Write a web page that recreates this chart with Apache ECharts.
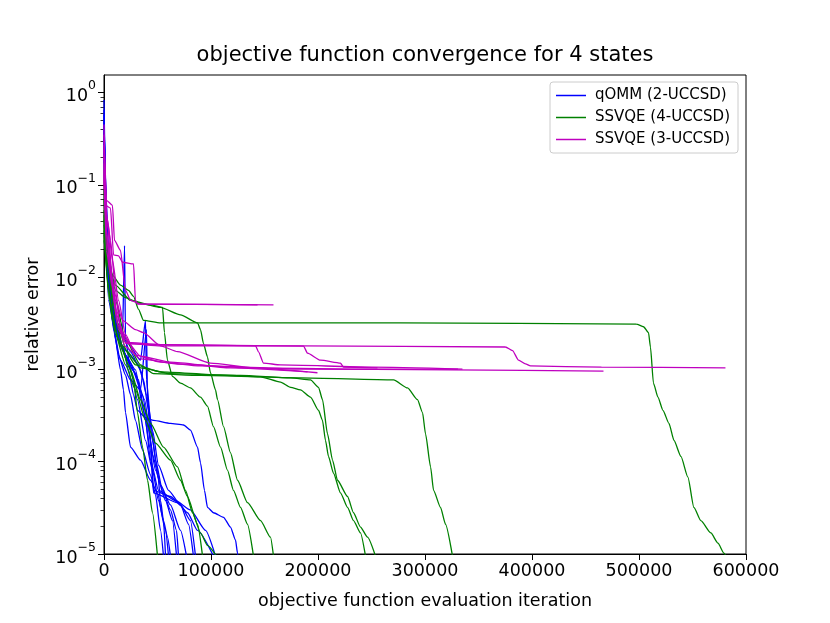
<!DOCTYPE html>
<html>
<head>
<meta charset="utf-8">
<script src="https://cdn.jsdelivr.net/npm/echarts@6.0.0/dist/echarts.min.js"></script>
<style>
html, body { margin: 0; padding: 0; background: #fff; }
#chart { width: 830px; height: 623px; }
</style>
</head>
<body>
<div id="chart"></div>
<script>
// 收敛曲线: [iteration, relative error],从原图读取的估计值

// qOMM (2-UCCSD)
var qomm1 = [[0,0.65],[2300,0.025],[6100,0.0072],[10700,0.0034],[17300,0.0018],[22900,0.00099],[27600,0.00053],[31300,0.00036],[38800,0.0003],[46300,0.00028],[62100,0.00026],[74300,0.00025],[80800,0.00022],[87400,0.000144],[90200,0.000097],[93900,0.000049],[96700,0.000032],[102300,0.000028],[111700,0.000025],[118200,0.0000196],[122900,0.0000142],[124800,0.0000102],[125700,0.0000085]];
var qomm2 = [[0,0.83],[2300,0.032],[6100,0.0056],[10700,0.0021],[15400,0.00099],[18200,0.0006],[20100,0.00034],[24800,0.000144],[34100,0.000104],[43500,0.000063],[50000,0.000046],[55600,0.000023],[59300,0.0000152],[62100,0.0000095]];
var qomm3 = [[0,0.5],[3300,0.0153],[7900,0.0034],[13600,0.00143],[20100,0.00087],[24800,0.00053],[29400,0.00028],[36000,0.000134],[43500,0.000072],[48100,0.000044],[52800,0.000018],[55600,0.0000095]];
var qomm4 = [[0,0.31],[4200,0.0072],[10700,0.0027],[17300,0.0024],[19200,0.022],[20100,0.0021],[24800,0.00099],[31300,0.00047],[38800,0.00017],[45300,0.000081],[50900,0.000038],[57500,0.000018],[60300,0.0000095]];
var qomm5 = [[0,0.39],[4200,0.0093],[10700,0.0034],[20100,0.0021],[34100,0.00126],[38800,0.0034],[39700,0.00077],[43500,0.00028],[48100,0.000104],[54700,0.000049],[62100,0.00003],[67800,0.000018],[69600,0.0000095]];
var qomm6 = [[0,0.57],[3300,0.0119],[8900,0.0027],[15400,0.00126],[24800,0.00077],[34100,0.0006],[39700,0.0027],[40700,0.00047],[43500,0.00017],[46300,0.000049],[62100,0.000042],[71500,0.000034],[80800,0.000023],[85500,0.0000095]];
var qomm7 = [[0,0.45],[4200,0.0082],[11700,0.0024],[20100,0.00143],[29400,0.00099],[36900,0.00036],[43500,0.000134],[46300,0.000046],[68700,0.000036],[78000,0.000028],[87400,0.000018],[102300,0.0000095]];
var qomm8 = [[0,0.35],[5100,0.0064],[13600,0.0021],[22900,0.00126],[32200,0.00077],[38800,0.00028],[43500,0.000104],[50900,0.000049],[66800,0.000038],[80800,0.00003],[94900,0.000018],[104200,0.0000095]];
var qomm9 = [[0,0.24],[6100,0.0056],[15400,0.0018],[26600,0.00099],[36000,0.00053],[41600,0.00022],[48100,0.000081],[57500,0.000038],[64000,0.000023],[67800,0.0000095]];
var qomm10 = [[0,0.27],[7900,0.0044],[17300,0.0016],[28500,0.00094],[37900,0.00047],[45300,0.000119],[52800,0.000056],[62100,0.000034],[71500,0.000018],[77100,0.0000095]];
var qomm11 = [[0,0.19],[4200,0.0056],[10700,0.0024],[20100,0.0016],[31300,0.00117],[36900,0.00077],[41600,0.00036],[45300,0.00017],[50000,0.000081],[52800,0.000038],[55600,0.000023],[57500,0.0000095]];
var qomm12 = [[0,0.41],[5100,0.0105],[13600,0.003],[24800,0.00155],[34100,0.00099],[39700,0.00053],[45300,0.00022],[50900,0.000092],[60300,0.000049],[71500,0.000034],[79000,0.000021],[83600,0.0000095]];

// SSVQE (4-UCCSD)
var ssvqe4a = [[0,0.088],[3300,0.0195],[7900,0.0105],[15400,0.0082],[22900,0.0072],[27600,0.0062],[32200,0.0045],[36900,0.0034],[52800,0.0032],[277100,0.0032],[497600,0.0031],[504200,0.0029],[508900,0.0025],[510700,0.00175],[513500,0.00071],[517700,0.0005],[522400,0.00036],[528000,0.00026],[532700,0.00017],[539200,0.000114],[545700,0.000068],[551300,0.000032],[557800,0.000023],[567200,0.0000169],[573800,0.0000131],[579400,0.0000102],[582200,0.000009]];
var ssvqe4b = [[0,0.068],[4200,0.0174],[10700,0.0056],[20100,0.0021],[34100,0.00112],[46300,0.0009],[90200,0.00086],[183600,0.00081],[270600,0.00077],[283700,0.00063],[293000,0.00047],[297700,0.00034],[300500,0.0002],[305200,0.000088],[308000,0.000049],[314500,0.000032],[319200,0.000021],[325700,0.0000095]];
var ssvqe4c = [[0,0.053],[3300,0.0145],[8900,0.0044],[17300,0.0018],[29400,0.00112],[52800,0.00094],[108900,0.00087],[146300,0.00083],[165000,0.00073],[174400,0.00064],[183600,0.0006],[193000,0.0005],[200500,0.00036],[204200,0.00028],[207000,0.00017],[209800,0.000114],[214500,0.000075],[221000,0.000046],[227600,0.000032],[233200,0.000023],[239700,0.0000169],[244400,0.0000095]];
var ssvqe4d = [[0,0.042],[4200,0.0119],[11700,0.0034],[21000,0.0016],[34100,0.00104],[62100,0.0009],[127600,0.00086],[174400,0.00081],[193000,0.00077],[200500,0.00064],[204200,0.00047],[208900,0.0002],[213600,0.000104],[218200,0.000063],[227600,0.000042],[233200,0.000028],[239700,0.0000196],[246300,0.0000152],[253700,0.0000095]];
var ssvqe4e = [[0,0.032],[4200,0.0145],[10700,0.0072],[20100,0.006],[34100,0.0052],[52800,0.0047],[71500,0.0039],[87400,0.0032],[90200,0.0027],[93000,0.0019],[96700,0.00137],[99500,0.00092],[104200,0.0006],[106100,0.00047],[111700,0.00024],[118200,0.000125],[124800,0.000063],[134100,0.000036],[146300,0.000023],[155600,0.0000152],[158400,0.0000095]];
var ssvqe4f = [[0,0.047],[3300,0.0093],[7900,0.0034],[15400,0.0018],[22900,0.00112],[27600,0.00077],[31300,0.00034],[36000,0.000144],[40700,0.000063],[45300,0.000028],[50000,0.0000095]];
var ssvqe4g = [[0,0.025],[4200,0.0136],[10700,0.0082],[24800,0.0056],[43500,0.005],[54700,0.0047],[56500,0.0025],[59300,0.00126],[64000,0.00084],[71500,0.00071],[80800,0.00063],[90200,0.0005],[96700,0.0004],[102300,0.00024],[108900,0.000144],[115400,0.000081],[121000,0.000049],[127600,0.000032],[134100,0.000021],[139700,0.0000095]];
var ssvqe4h = [[0,0.037],[4200,0.0072],[10700,0.0024],[20100,0.00112],[29400,0.0006],[38800,0.00028],[48100,0.000159],[62100,0.000104],[71500,0.000063],[78000,0.000042],[87400,0.000021],[92100,0.0000095]];
var ssvqe4i = [[0,0.029],[5100,0.0056],[13600,0.0021],[24800,0.00099],[34100,0.00047],[43500,0.00026],[55600,0.000144],[68700,0.000088],[76200,0.000049],[82700,0.000028],[90200,0.0000169],[96700,0.0000124],[105100,0.0000095]];

// SSVQE (3-UCCSD)
var ssvqe3a = [[0,0.45],[1400,0.06],[6100,0.056],[8900,0.0174],[13600,0.017],[17300,0.0145],[27600,0.0139],[29400,0.0056],[31300,0.0051],[143500,0.005]];
var ssvqe3b = [[0,0.35],[2300,0.068],[7900,0.06],[9800,0.025],[15400,0.0195],[20100,0.0072],[24800,0.0056],[34100,0.0051],[158400,0.005]];
var ssvqe3c = [[0,0.24],[2300,0.047],[6100,0.025],[10700,0.0072],[15400,0.0027],[24800,0.0019],[52800,0.0018],[183600,0.0018],[375200,0.00175],[381800,0.0016],[387400,0.00126],[393900,0.00115],[398600,0.00109],[464900,0.00106],[580800,0.00104]];
var ssvqe3d = [[0,0.27],[3300,0.042],[7900,0.0153],[13600,0.0056],[20100,0.0024],[29400,0.00143],[52800,0.0012],[90200,0.00109],[183600,0.00101],[323800,0.00099],[466800,0.00096]];
var ssvqe3e = [[0,0.21],[2300,0.032],[6100,0.0119],[11700,0.0044],[19200,0.0018],[34100,0.0013],[71500,0.00114],[136900,0.00104],[230400,0.00101],[330800,0.00101]];
var ssvqe3f = [[0,0.17],[3300,0.037],[7900,0.0093],[13600,0.0027],[21000,0.0019],[43500,0.00186],[141600,0.0018],[144400,0.00155],[149100,0.00117],[165000,0.00112],[250000,0.00106],[335000,0.00101]];
var ssvqe3g = [[0,0.145],[2300,0.029],[7000,0.0082],[12600,0.0031],[20100,0.00196],[52800,0.00186],[186500,0.00179],[190200,0.0015],[202300,0.00126],[221000,0.00117],[223800,0.00106],[255600,0.00104]];
var ssvqe3h = [[0,0.113],[3300,0.025],[8900,0.0072],[17300,0.0034],[29400,0.0027],[36900,0.0025],[52800,0.0018],[68700,0.00156],[99500,0.00117],[139700,0.00104],[199500,0.00092]];
var ssvqe3i = [[0,0.13],[2300,0.0195],[6100,0.0105],[11700,0.0039],[20100,0.0021],[34100,0.00139],[62100,0.0012],[118200,0.00104],[190200,0.00094]];

var qommRuns = [qomm1, qomm2, qomm3, qomm4, qomm5, qomm6, qomm7, qomm8, qomm9, qomm10, qomm11, qomm12];
var ssvqe4Runs = [ssvqe4a, ssvqe4b, ssvqe4c, ssvqe4d, ssvqe4e, ssvqe4f, ssvqe4g, ssvqe4h, ssvqe4i];
var ssvqe3Runs = [ssvqe3a, ssvqe3b, ssvqe3c, ssvqe3d, ssvqe3e, ssvqe3f, ssvqe3g, ssvqe3h, ssvqe3i];

var seriesNames = ['qOMM (2-UCCSD)', 'SSVQE (4-UCCSD)', 'SSVQE (3-UCCSD)'];
var seriesColors = ['#0000ff', '#008000', '#bf00bf'];

var xTicks = [0, 100000, 200000, 300000, 400000, 500000, 600000];
var yTicks = [1e-5, 1e-4, 1e-3, 1e-2, 1e-1, 1];

var font = 'DejaVu Sans';

// 次刻度 2..9 x 10^n
var yMinorTicks = [];
for (var i = 0; i < yTicks.length - 1; i++) {
	for (var k = 2; k <= 9; k++) {
		yMinorTicks.push(k * yTicks[i]);
	}
}

var makeSeries = function(name, color, runs) {
	return runs.map(function(run) {
		return {
			name : name,
			type : 'line',
			data : run,
			symbol : 'none',
			showSymbol : false,
			silent : true,
			clip : true,
			smooth : 0.2,
			smoothMonotone : 'x',
			lineStyle : { color : color, width : 1.3 },
			itemStyle : { color : color }
		};
	});
};

var myChart = echarts.init(document.getElementById('chart'));
var option = {
	animation : false,
	backgroundColor : '#fff',
	title : {
		text : 'objective function convergence for 4 states',
		left : 425,
		textAlign : 'center',
		top : 45,
		padding : 0,
		textStyle : { fontFamily : font, fontSize : 21, fontWeight : 'normal', color : '#000' }
	},
	legend : {
		data : seriesNames,
		orient : 'vertical',
		left : 550,
		top : 82,
		padding : [6, 8, 6, 6],
		itemGap : 7,
		itemWidth : 30,
		itemHeight : 1.5,
		icon : 'rect',
		borderColor : '#cccccc',
		borderWidth : 1,
		borderRadius : 3,
		backgroundColor : 'rgba(255,255,255,0.8)',
		textStyle : { fontFamily : font, fontSize : 15, color : '#000', padding : [0, 0, 0, 4] }
	},
	grid : {
		left : 104,
		right : 84,
		top : 75,
		bottom : 69,
		show : true,
		borderColor : '#000',
		borderWidth : 1
	},
	xAxis : {
		type : 'value',
		min : xTicks[0],
		max : xTicks[xTicks.length - 1],
		interval : 100000,
		name : 'objective function evaluation iteration',
		nameLocation : 'middle',
		nameGap : 38,
		nameTextStyle : { fontFamily : font, fontSize : 17.5, color : '#000' },
		axisLine : { show : true, lineStyle : { color : '#000', width : 1 } },
		axisTick : { show : true, length : 6, lineStyle : { color : '#000' } },
		axisLabel : {
			fontFamily : font, fontSize : 17.5, color : '#000', margin : 8,
			formatter : function(v) { return String(v); }
		},
		splitLine : { show : false }
	},
	yAxis : [ {
		type : 'log',
		logBase : 10,
		min : 1e-5,
		max : 1.55,
		name : 'relative error',
		nameLocation : 'middle',
		nameRotate : 90,
		nameGap : 62,
		nameTextStyle : { fontFamily : font, fontSize : 17.5, color : '#000' },
		axisLine : { show : true, lineStyle : { color : '#000', width : 1 } },
		axisTick : { show : true, length : 6, customValues : yTicks, lineStyle : { color : '#000' } },
		axisLabel : {
			customValues : yTicks,
			margin : 8,
			formatter : function(v) {
				var e = Math.round(Math.log10(v));
				return '{b|10}{s|' + (e < 0 ? '\u2212' + (-e) : e) + '}';
			},
			rich : {
				b : { fontFamily : font, fontSize : 17.5, color : '#000', lineHeight : 26, verticalAlign : 'bottom' },
				s : { fontFamily : font, fontSize : 12.5, color : '#000', lineHeight : 13, verticalAlign : 'top' }
			}
		},
		splitLine : { show : false }
	}, {
		type : 'log',
		logBase : 10,
		min : 1e-5,
		max : 1.55,
		position : 'left',
		axisLine : { show : false },
		axisTick : { show : true, length : 3.5, customValues : yMinorTicks, lineStyle : { color : '#000', width : 0.8 } },
		axisLabel : { show : false },
		splitLine : { show : false }
	} ],
	series : [].concat(
		makeSeries(seriesNames[0], seriesColors[0], qommRuns),
		makeSeries(seriesNames[1], seriesColors[1], ssvqe4Runs),
		makeSeries(seriesNames[2], seriesColors[2], ssvqe3Runs)
	)
};
myChart.setOption(option);
</script>
</body>
</html>
